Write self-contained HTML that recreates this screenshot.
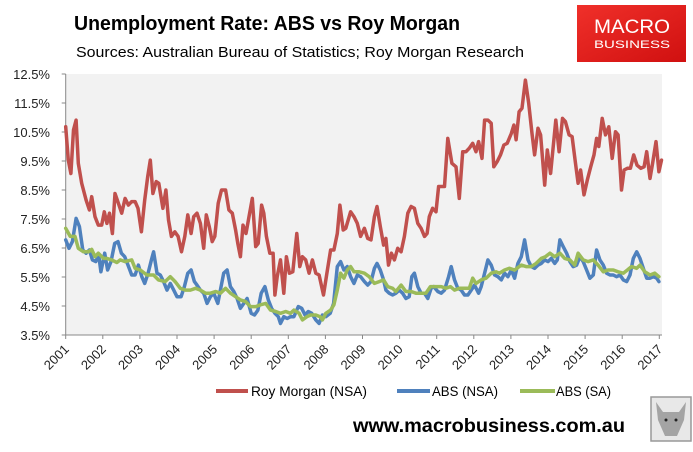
<!DOCTYPE html>
<html><head><meta charset="utf-8"><style>
body{margin:0;background:#fff;}
svg text{font-family:"Liberation Sans",sans-serif;}
</style></head><body>
<svg id="c" width="693" height="447" viewBox="0 0 693 447" xmlns="http://www.w3.org/2000/svg">
<text x="74" y="30" font-size="20" font-weight="bold" textLength="386" lengthAdjust="spacingAndGlyphs">Unemployment Rate: ABS vs Roy Morgan</text>
<text x="76" y="57" font-size="15" textLength="448" lengthAdjust="spacingAndGlyphs">Sources: Australian Bureau of Statistics; Roy Morgan Research</text>
<g>
<defs><linearGradient id="lg" x1="0" y1="0" x2="1" y2="1"><stop offset="0" stop-color="#f0302a"/><stop offset="1" stop-color="#d01010"/></linearGradient></defs>
<rect x="577" y="5" width="109" height="57" fill="url(#lg)"/>
<text x="632" y="33" font-size="19" fill="#fff" text-anchor="middle" textLength="76" lengthAdjust="spacingAndGlyphs">MACRO</text>
<text x="632" y="48" font-size="11" fill="#fff" text-anchor="middle" textLength="76" lengthAdjust="spacingAndGlyphs">BUSINESS</text>
</g>
<rect x="66" y="74" width="596" height="261" fill="#f2f2f2"/>
<g id="axes"></g>
<g id="series"></g>
<g>
<g><line x1="216" y1="391" x2="248" y2="391" stroke="#c0504d" stroke-width="4"/><text x="251" y="396" font-size="14" textLength="116" lengthAdjust="spacingAndGlyphs">Roy Morgan (NSA)</text></g>
<g><line x1="397" y1="391" x2="430" y2="391" stroke="#4f81bd" stroke-width="4"/><text x="432" y="396" font-size="14" textLength="66" lengthAdjust="spacingAndGlyphs">ABS (NSA)</text></g>
<g><line x1="520" y1="391" x2="555" y2="391" stroke="#9bbb59" stroke-width="4"/><text x="556" y="396" font-size="14" textLength="55" lengthAdjust="spacingAndGlyphs">ABS (SA)</text></g>
</g>
<text x="353" y="432" font-size="19" font-weight="bold" textLength="272" lengthAdjust="spacingAndGlyphs">www.macrobusiness.com.au</text>
<g>
<rect x="651" y="397" width="40" height="44" fill="#e8e8e8" stroke="#999" stroke-width="1.5"/>
<path d="M656 402 L663 412 L679 412 L686 402 L684 420 L677 436 L665 436 L658 420 Z" fill="#888" opacity="0.7"/>
<circle cx="666" cy="420" r="1.5" fill="#222"/><circle cx="676" cy="420" r="1.5" fill="#222"/>
</g>
</svg>
<script>
const yTicks = [3.5,4.5,5.5,6.5,7.5,8.5,9.5,10.5,11.5,12.5];
const years = [2001,2002,2003,2004,2005,2006,2007,2008,2009,2010,2011,2012,2013,2014,2015,2016,2017];
const baseYear = 2001;
const rmT = [0,.07,.14,.21,.28,.34,.43,.55,.64,.70,.79,.88,.97,1.04,1.11,1.18,1.26,1.33,1.42,1.51,1.60,1.69,1.78,1.87,1.95,2.04,2.13,2.21,2.28,2.35,2.44,2.51,2.62,2.70,2.77,2.85,2.94,3.03,3.12,3.21,3.29,3.38,3.45,3.54,3.63,3.72,3.79,3.87,3.95,4.02,4.11,4.20,4.31,4.40,4.49,4.58,4.64,4.71,4.78,4.86,4.94,5.03,5.12,5.19,5.28,5.34,5.41,5.50,5.59,5.64,5.70,5.79,5.88,5.95,6.03,6.12,6.23,6.31,6.38,6.47,6.56,6.65,6.74,6.83,6.95,7.04,7.14,7.23,7.32,7.39,7.48,7.55,7.68,7.77,7.86,7.95,8.05,8.14,8.23,8.32,8.39,8.48,8.57,8.63,8.70,8.78,8.86,8.95,9.04,9.13,9.22,9.31,9.40,9.49,9.58,9.67,9.74,9.80,9.89,9.98,10.05,10.21,10.30,10.41,10.52,10.61,10.70,10.79,10.88,10.97,11.06,11.13,11.22,11.29,11.38,11.47,11.54,11.63,11.72,11.81,11.90,12.01,12.08,12.14,12.22,12.30,12.39,12.48,12.57,12.64,12.73,12.80,12.91,12.98,13.07,13.21,13.30,13.39,13.47,13.57,13.65,13.74,13.81,13.88,13.97,14.06,14.15,14.24,14.31,14.37,14.46,14.55,14.64,14.73,14.82,14.89,14.98,15.05,15.14,15.22,15.31,15.40,15.50,15.59,15.66,15.75,15.82,15.91,15.99,16.06];
const rmV = [10.68,9.53,9.07,10.57,10.91,9.42,8.73,8.15,7.81,8.27,7.58,7.29,7.29,7.75,7.35,7.7,7.0,8.38,8.04,7.7,8.21,7.98,8.1,8.1,7.87,7.06,8.15,8.96,9.53,8.38,8.79,8.73,7.87,8.5,7.47,6.9,7.06,6.9,6.37,6.9,7.64,7.0,7.58,7.7,7.35,6.49,7.64,7.23,6.72,6.9,8.04,8.5,8.5,7.81,7.7,7.12,6.66,6.2,7.29,7.0,7.58,8.21,6.55,6.66,7.98,7.7,6.9,6.32,6.32,4.88,5.51,6.09,4.94,6.2,5.63,5.68,7.0,5.86,6.2,6.09,5.63,6.09,5.63,5.57,4.88,5.63,6.43,6.43,7.0,7.98,7.12,7.18,7.75,7.58,7.35,6.9,7.18,6.83,6.78,7.58,7.93,7.24,6.6,6.83,5.91,6.32,6.09,6.49,6.37,6.9,7.7,7.93,7.87,7.35,7.18,6.9,7.0,7.58,7.87,7.75,8.62,8.62,10.28,9.42,9.3,8.21,9.82,9.82,9.94,10.11,9.82,10.17,9.59,10.91,10.91,10.8,9.3,9.48,9.71,10.05,10.11,10.45,10.74,10.23,11.2,11.32,12.29,11.49,10.45,9.71,10.63,10.4,8.67,9.88,9.07,10.91,9.82,10.97,10.86,10.4,10.34,9.42,8.73,9.19,8.33,8.84,9.3,9.71,10.28,10.0,10.97,10.4,10.68,9.59,10.51,10.4,8.5,9.19,9.25,9.25,9.71,9.36,9.25,9.3,9.82,8.9,9.42,10.17,9.13,9.53];
const nsaT = [0,.09,.18,.28,.37,.46,.55,.64,.72,.81,.89,.95,1.05,1.13,1.22,1.32,1.41,1.50,1.59,1.68,1.78,1.87,1.96,2.05,2.13,2.22,2.31,2.37,2.46,2.55,2.64,2.73,2.82,2.91,3.00,3.11,3.20,3.29,3.38,3.47,3.54,3.63,3.72,3.81,3.90,3.99,4.10,4.17,4.26,4.35,4.44,4.53,4.62,4.71,4.80,4.89,5.00,5.09,5.18,5.27,5.37,5.46,5.55,5.64,5.73,5.79,5.88,5.97,6.06,6.15,6.27,6.36,6.45,6.54,6.63,6.74,6.83,6.92,7.01,7.13,7.22,7.32,7.41,7.50,7.59,7.68,7.77,7.86,7.95,8.05,8.14,8.23,8.32,8.39,8.48,8.57,8.63,8.72,8.81,8.90,8.99,9.08,9.17,9.26,9.33,9.40,9.49,9.58,9.67,9.76,9.85,9.92,10.03,10.12,10.21,10.32,10.39,10.48,10.57,10.66,10.75,10.84,10.93,11.02,11.13,11.20,11.29,11.38,11.47,11.56,11.65,11.74,11.83,11.92,12.01,12.10,12.19,12.28,12.37,12.46,12.55,12.64,12.73,12.82,12.91,13.00,13.09,13.18,13.25,13.32,13.41,13.50,13.59,13.68,13.77,13.86,13.95,14.04,14.13,14.22,14.31,14.40,14.49,14.58,14.67,14.76,14.85,14.94,15.03,15.12,15.21,15.30,15.39,15.48,15.57,15.66,15.75,15.84,15.93,15.99];
const nsaV = [6.78,6.49,6.72,7.52,7.24,6.43,6.32,6.43,6.09,6.03,6.26,5.68,6.32,5.74,6.03,6.66,6.72,6.32,6.2,5.91,5.57,5.57,5.91,5.51,5.28,5.63,6.09,6.37,5.63,5.57,5.34,5.05,5.28,5.05,4.82,4.82,5.17,5.63,5.74,5.34,5.22,5.05,4.94,4.59,4.82,4.94,4.59,5.05,5.63,5.74,5.17,5.0,4.76,4.42,4.59,4.76,4.25,4.19,4.36,4.94,5.17,4.71,4.42,4.25,4.13,3.9,4.13,4.07,4.13,4.13,4.48,4.42,4.19,4.31,4.25,4.02,3.9,4.19,4.13,4.25,4.59,5.86,6.03,5.74,5.86,5.51,5.28,5.57,5.51,5.34,5.22,5.34,5.8,5.97,5.74,5.4,5.05,4.94,4.88,4.94,5.05,4.94,4.76,4.82,5.51,5.63,5.17,4.94,4.94,4.76,5.11,5.17,5.0,4.94,5.05,5.51,5.86,5.4,5.11,5.05,4.88,4.88,5.05,5.22,4.94,5.17,5.63,6.09,5.91,5.57,5.51,5.4,5.63,5.51,5.74,5.46,5.97,6.2,6.78,6.09,5.86,5.8,5.91,5.97,6.09,6.03,6.14,5.97,6.09,6.78,6.55,6.32,6.03,5.86,5.91,6.2,6.03,5.74,5.46,5.57,6.43,6.09,5.91,5.63,5.57,5.57,5.51,5.57,5.4,5.34,5.57,6.14,6.37,6.14,5.8,5.46,5.46,5.51,5.46,5.34];
const saT = [0,.12,.25,.34,.48,.61,.70,.79,.88,1.02,1.11,1.24,1.38,1.47,1.60,1.78,1.87,2.01,2.19,2.37,2.50,2.68,2.82,2.95,3.09,3.23,3.36,3.50,3.63,3.77,3.90,4.04,4.17,4.31,4.44,4.58,4.71,4.85,4.98,5.12,5.25,5.39,5.52,5.66,5.79,5.93,6.06,6.15,6.29,6.38,6.50,6.60,6.74,6.86,6.92,7.01,7.14,7.23,7.32,7.41,7.50,7.59,7.68,7.77,7.91,8.05,8.18,8.32,8.45,8.57,8.68,8.81,8.90,9.04,9.17,9.31,9.44,9.58,9.71,9.83,9.98,10.12,10.25,10.37,10.48,10.61,10.75,10.88,10.97,11.06,11.20,11.33,11.47,11.60,11.69,11.83,11.96,12.10,12.28,12.41,12.55,12.68,12.82,12.93,13.05,13.18,13.32,13.45,13.59,13.72,13.81,13.95,14.08,14.22,14.35,14.49,14.62,14.76,14.89,15.03,15.14,15.25,15.39,15.48,15.61,15.75,15.88,15.99];
const saV = [7.18,6.9,6.9,6.49,6.37,6.37,6.45,6.2,6.32,6.14,6.14,6.09,6.0,6.09,6.03,6.09,5.8,5.74,5.57,5.57,5.4,5.34,5.51,5.34,5.11,5.05,5.05,5.11,5.05,4.94,4.94,5.0,4.94,5.11,4.94,4.82,4.71,4.65,4.48,4.48,4.54,4.59,4.36,4.31,4.25,4.31,4.25,4.36,4.25,4.02,4.13,4.19,4.19,4.13,4.02,4.25,4.36,4.54,5.05,5.63,5.46,5.74,5.86,5.68,5.68,5.63,5.51,5.28,5.34,5.4,5.17,5.11,5.0,5.22,5.0,5.0,4.94,4.94,4.94,5.17,5.17,5.17,5.11,5.17,5.05,5.11,5.11,5.11,5.46,5.28,5.4,5.46,5.63,5.68,5.63,5.74,5.8,5.74,5.91,5.86,5.86,5.97,6.14,6.2,6.32,6.2,6.32,6.14,6.09,5.91,6.32,6.09,6.03,6.09,5.91,5.68,5.74,5.74,5.68,5.63,5.74,5.86,5.8,5.91,5.68,5.57,5.63,5.51];

const NS = 'http://www.w3.org/2000/svg';
const X0 = 65.7, PX_YEAR = 37.1, Y_TOP = 74, Y_BOT = 335, YMIN = 3.5, YMAX = 12.5;
function xs(yr){ return X0 + (yr - baseYear) * PX_YEAR; }
function ys(v){ return Y_BOT - (v - YMIN) / (YMAX - YMIN) * (Y_BOT - Y_TOP); }
function mk(tag, attrs, parent){ const e = document.createElementNS(NS, tag); for (const k in attrs) e.setAttribute(k, attrs[k]); parent.appendChild(e); return e; }

const axes = document.getElementById('axes');
const yAxis = mk('line', {x1: X0, y1: Y_TOP, x2: X0, y2: Y_BOT, stroke: '#888', 'stroke-width': 1}, axes);


const xAxis = mk('line', {x1: X0, y1: Y_BOT, x2: 662, y2: Y_BOT, stroke: '#888', 'stroke-width': 1}, axes);


yTicks.forEach(v => {
  const t = mk('line', {x1: X0 - 4, y1: ys(v), x2: X0, y2: ys(v), stroke: '#888'}, axes);
  
  
  const l = mk('text', {x: 50, y: ys(v) + 5, 'font-size': 13, 'text-anchor': 'end', fill: '#222'}, axes);
  l.textContent = v.toFixed(1) + '%';
  
  
});
years.forEach(yr => {
  const x = xs(yr);
  const t = mk('line', {x1: x, y1: Y_BOT, x2: x, y2: Y_BOT + 4, stroke: '#888'}, axes);
  
  
  const l = mk('text', {x: x + 4, y: 350, 'font-size': 13, 'text-anchor': 'end', fill: '#222', transform: 'rotate(-45 ' + (x + 4) + ' 350)'}, axes);
  l.textContent = String(yr);
  
  
});

const series = document.getElementById('series');
function drawLine(T, V, color, name){
  const d = T.map((t, i) => (i ? 'L' : 'M') + xs(baseYear + t).toFixed(1) + ' ' + ys(V[i]).toFixed(1)).join(' ');
  const p = mk('path', {d: d, fill: 'none', stroke: color, 'stroke-width': 3.5, 'stroke-linejoin': 'round', 'stroke-linecap': 'round'}, series);
  
  
}
drawLine(rmT, rmV, '#c0504d', 'roy-morgan-line');
drawLine(nsaT, nsaV, '#4f81bd', 'abs-nsa-line');
drawLine(saT, saV, '#9bbb59', 'abs-sa-line');
</script>
</body></html>
